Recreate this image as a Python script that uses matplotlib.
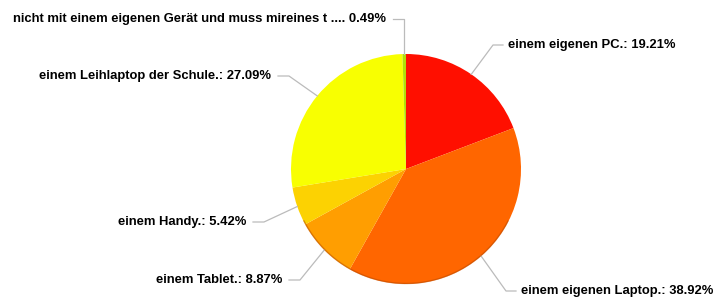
import numpy as np
import matplotlib
matplotlib.use("Agg")
from matplotlib import pyplot as plt

# data
categories = [
    "einem eigenen PC.",
    "einem eigenen Laptop.",
    "einem Tablet.",
    "einem Handy.",
    "einem Leihlaptop der Schule.",
    "nicht mit einem eigenen Gerät und muss mireines t ...",
]
values = [19.21, 38.92, 8.87, 5.42, 27.09, 0.49]
colors = ["#FF0F00", "#FF6600", "#FF9E01", "#FCD202", "#F8FF01", "#B0DE09"]

# layout (pixel space, y down)
W, H = 724, 298
center = (406, 169)
radius = 115
# label text anchor (x, y) and side: 'r' text to right of line, 'l' text left
label_pos = [(508, 45, 'r'), (521, 291, 'r'), (282, 280, 'l'),
             (246, 222, 'l'), (271, 76, 'l'), (386, 19, 'l')]

plt.rcParams['font.family'] = ['Liberation Sans', 'DejaVu Sans']

fig = plt.figure(figsize=(W / 100, H / 100), dpi=100)
ax = fig.add_axes([0, 0, 1, 1])

wedges, _ = ax.pie(values, colors=colors, center=center, radius=radius,
                   startangle=270, counterclock=True,
                   wedgeprops=dict(linewidth=0))
ax.set_xlim(0, W)
ax.set_ylim(H, 0)
ax.set_aspect('equal')
ax.axis('off')

# subtle darker rim at the bottom
theta = np.linspace(0.15 * np.pi, 0.85 * np.pi, 100)
ax.plot(center[0] + (radius - 0.5) * np.cos(theta),
        center[1] + (radius - 0.5) * np.sin(theta),
        color="#B34700", lw=1.0, alpha=0.5, zorder=3)

for w, cat, val, (tx, ty, side) in zip(wedges, categories, values, label_pos):
    mid = np.deg2rad((w.theta1 + w.theta2) / 2)
    ax_, ay_ = center[0] + radius * np.cos(mid), center[1] + radius * np.sin(mid)
    if side == 'r':
        xs = [ax_, tx - 15, tx - 5]
        ha = 'left'
    else:
        xs = [ax_, tx + 18, tx + 7]
        ha = 'right'
    if abs(ax_ - center[0]) < 5:
        xs[1] = ax_
    ax.plot(xs, [ay_, ty, ty], color="#BBBBBB", lw=0.9, zorder=1)
    ax.text(tx, ty, f"{cat}: {val:.2f}%" if not cat.endswith("...") else f"{cat}. {val:.2f}%",
            ha=ha, va='center', fontsize=9.4, fontweight='bold', color="#000000")

fig.savefig("out.png", dpi=100)
